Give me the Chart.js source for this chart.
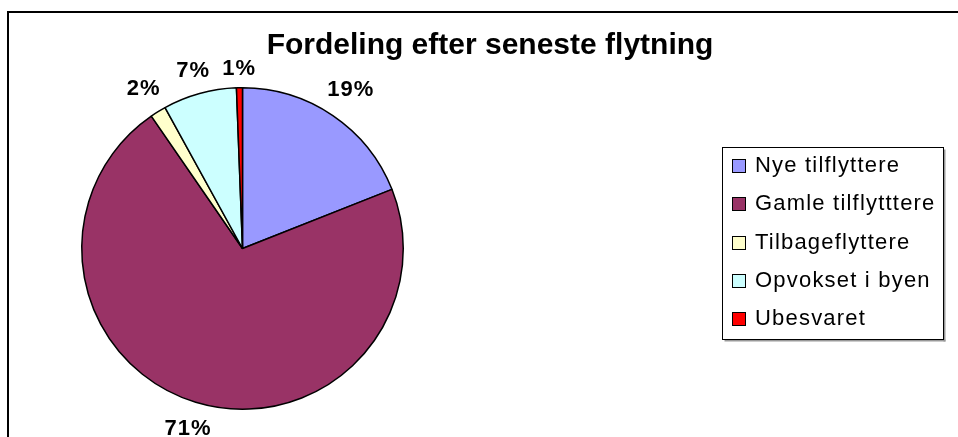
<!DOCTYPE html>
<html>
<head>
<meta charset="utf-8">
<script src="https://cdn.jsdelivr.net/npm/chart.js@4/dist/chart.umd.min.js"></script>
<style>
	body { margin: 0; background: #fff; }
	canvas { display: block; }
</style>
</head>
<body>
<canvas id="pieChart" width="958" height="437"></canvas>
<script>
// data (percent of answers)
const labels = ['Nye tilflyttere', 'Gamle tilflytttere', 'Tilbageflyttere', 'Opvokset i byen', 'Ubesvaret'];
const values = [19.0, 71.4, 1.6, 7.4, 0.6];
const colors = ['#9999FF', '#993366', '#FFFFCC', '#CCFFFF', '#FF0000'];
const title = 'Fordeling efter seneste flytning';

const fontName = '"Liberation Sans", Arial, sans-serif';

// frame + title + legend + outside percent labels
const excelLook = {
	id: 'excelLook',
	beforeDraw(chart) {
		const ctx = chart.ctx;
		ctx.save();
		ctx.fillStyle = '#fff';
		ctx.fillRect(0, 0, chart.width, chart.height);
		ctx.strokeStyle = '#000';
		ctx.lineWidth = 2;
		ctx.beginPath();
		ctx.moveTo(8, chart.height + 5);
		ctx.lineTo(8, 12);
		ctx.lineTo(chart.width + 5, 12);
		ctx.stroke();

		ctx.fillStyle = '#000';
		ctx.font = 'bold 30px ' + fontName;
		ctx.textAlign = 'center';
		ctx.textBaseline = 'alphabetic';
		ctx.fillText(title, 490, 54);
		ctx.restore();
	},
	afterDatasetsDraw(chart) {
		const ctx = chart.ctx;
		const meta = chart.getDatasetMeta(0);
		const total = values.reduce((a, b) => a + b, 0);
		ctx.save();
		ctx.font = 'bold 22px ' + fontName;
		ctx.letterSpacing = '1px';
		ctx.fillStyle = '#000';
		ctx.textAlign = 'center';
		ctx.textBaseline = 'middle';
		meta.data.forEach(function (arc, i) {
			const p = arc.getProps(['x', 'y', 'startAngle', 'endAngle', 'outerRadius'], true);
			const mid = (p.startAngle + p.endAngle) / 2;
			const txt = Math.round(values[i] / total * 100) + '%';
			const w = ctx.measureText(txt).width;
			const h = 16;
			const c = Math.cos(mid), s = Math.sin(mid);
			const r = p.outerRadius + 12 + Math.abs(c) * w / 2 + Math.abs(s) * h / 2;
			ctx.fillText(txt, p.x + r * c, p.y + r * s + 1);
		});

		// legend
		const bx = 722.5, by = 147.5, bw = 221, bh = 192;
		ctx.fillStyle = '#999';
		ctx.fillRect(bx + 2, by + bh, bw, 2);
		ctx.fillRect(bx + bw, by + 2, 2, bh);
		ctx.fillStyle = '#fff';
		ctx.fillRect(bx, by, bw, bh);
		ctx.strokeStyle = '#000';
		ctx.lineWidth = 1;
		ctx.strokeRect(bx, by, bw, bh);
		ctx.font = '22px ' + fontName;
		ctx.letterSpacing = '1.2px';
		ctx.textAlign = 'left';
		ctx.textBaseline = 'middle';
		labels.forEach(function (lab, i) {
			const cy = 166 + i * 38.3;
			ctx.fillStyle = colors[i];
			ctx.fillRect(732.5, Math.round(cy) - 6.5, 13, 13);
			ctx.strokeStyle = '#000';
			ctx.strokeRect(732.5, Math.round(cy) - 6.5, 13, 13);
			ctx.fillStyle = '#000';
			ctx.fillText(lab, 755, cy);
		});
		ctx.restore();
	}
};

new Chart(document.getElementById('pieChart'), {
	type: 'pie',
	data: {
		labels: labels,
		datasets: [{
			data: values,
			backgroundColor: colors,
			borderColor: '#000',
			borderWidth: 1.5
		}]
	},
	options: {
		responsive: false,
		animation: false,
		devicePixelRatio: 1,
		layout: { padding: { left: 81, right: 554, top: 87, bottom: 27 } },
		plugins: {
			legend: { display: false },
			title: { display: false },
			tooltip: { enabled: false }
		}
	},
	plugins: [excelLook]
});
</script>
</body>
</html>
